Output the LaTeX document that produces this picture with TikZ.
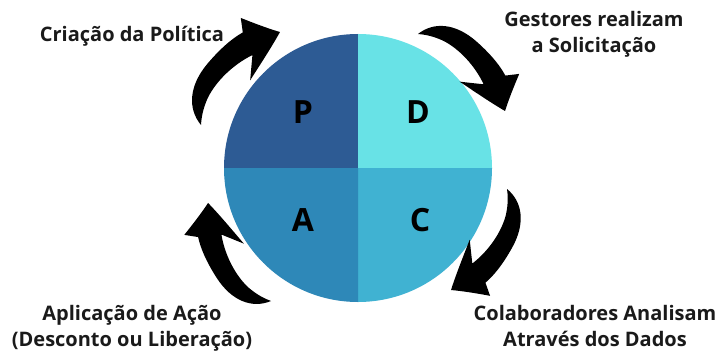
\documentclass[tikz,border=0pt]{standalone}
\usepackage{fontspec}
\setmainfont{Open Sans}
\definecolor{qP}{HTML}{2D5B94}
\definecolor{qD}{HTML}{68E2E6}
\definecolor{qA}{HTML}{2E88B8}
\definecolor{qC}{HTML}{40B2D2}
\definecolor{txt}{HTML}{1A1A1A}
\newcommand{\cyclearrowshape}{%
  \fill[black] (0,0) .. controls (3,17) and (18,28.5) .. (42,28.5)
     .. controls (60,28.5) and (72,26) .. (80,23) -- (88,32)
     .. controls (92,20) and (96,9) .. (100,0)
     .. controls (85,-3) and (68,-5) .. (54,-7) -- (71,5)
     .. controls (55,12) and (35,14) .. (20,10)
     .. controls (10,7) and (4,3) .. (0,0) -- cycle;}
\tikzset{
  letter/.style={font=\bfseries\fontsize{32}{36}\selectfont, text=black, inner sep=0pt, anchor=center},
  label/.style={font=\bfseries\fontsize{20}{26.5}\selectfont, text=txt, align=center, inner sep=0pt},
}
\begin{document}
\begin{tikzpicture}[x=1pt,y=1pt]
\useasboundingbox (0,0) rectangle (719,354);
\fill[white] (0,0) rectangle (719,354);
% circle quadrants
\coordinate (O) at (358,186);
\fill[qP] (O) -- (224,186) arc[start angle=180, end angle=90, radius=134] -- cycle;
\fill[qD] (O) -- (358,320) arc[start angle=90, end angle=0, radius=134] -- cycle;
\fill[qC] (O) -- (492,186) arc[start angle=0, end angle=-90, radius=134] -- cycle;
\fill[qA] (O) -- (358,52) arc[start angle=270, end angle=180, radius=134] -- cycle;
% letters
\node[letter] (p) at (303,242) {P};
\node[letter] (d) at (418,242) {D};
\node[letter] (a) at (303,134) {A};
\node[letter] (c) at (420,134) {C};
% arrows
\begin{scope}[shift={(201,229)}, rotate=49.65, scale=1.22]\cyclearrowshape\end{scope}
\begin{scope}[shift={(418,320)}, rotate=-41.5, scale=1.162]\cyclearrowshape\end{scope}
\begin{scope}[shift={(507,165)}, rotate=-119.0, scale=1.155]\cyclearrowshape\end{scope}
\begin{scope}[shift={(271,53)}, rotate=122.7, scale=1.165]\cyclearrowshape\end{scope}
% labels
\node[label, anchor=base] (lp) at (132,312) {Criação da Política};
\node[label, anchor=base] (ld1) at (594,327) {Gestores realizam};
\node[label, anchor=base] (ld2) at (594,301) {a Solicitação};
\node[label, anchor=base] (lc1) at (595,34) {Colaboradores Analisam};
\node[label, anchor=base] (lc2) at (595,7.5) {Através dos Dados};
\node[label, anchor=base] (la1) at (132,34) {Aplicação de Ação};
\node[label, anchor=base] (la2) at (132,7.5) {(Desconto ou Liberação)};
\end{tikzpicture}
\end{document}
